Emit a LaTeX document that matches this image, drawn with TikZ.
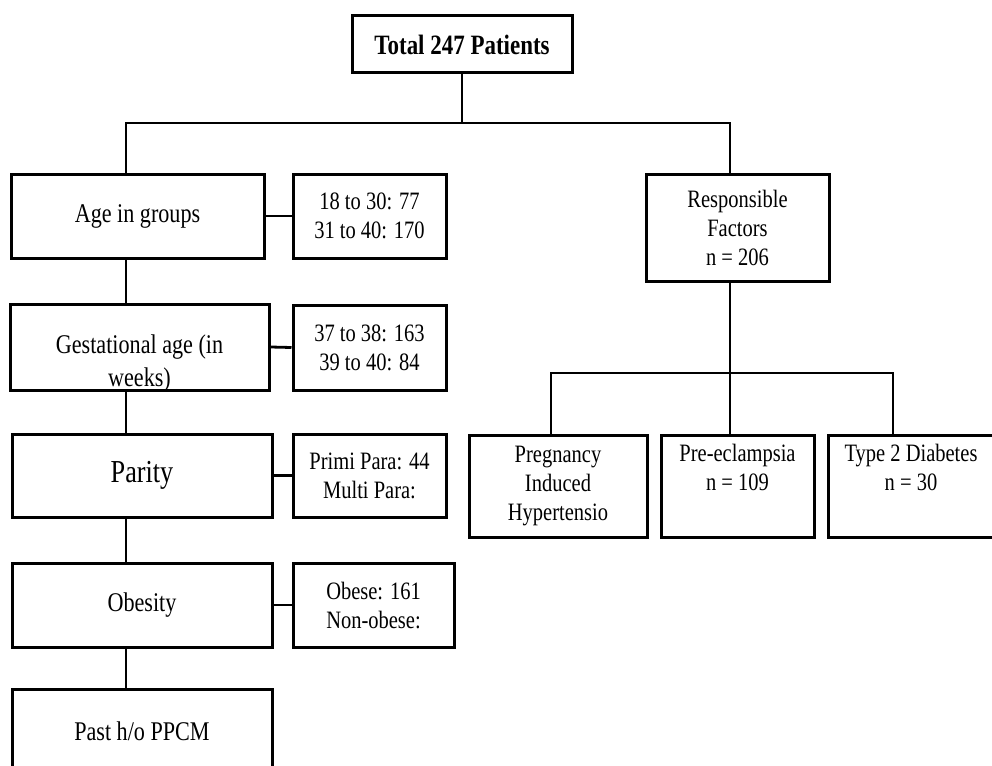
\documentclass[tikz,border=0pt]{standalone}
\usepackage{fontspec}
\setmainfont{Liberation Serif}[FakeStretch=0.82]
\usetikzlibrary{positioning}

\begin{document}
\begin{tikzpicture}[x=1pt, y=-1pt,
    box/.style={draw, line width=3pt, rectangle, inner sep=0pt, align=center},
    midtext/.style={font=\fontsize{25}{29}\selectfont},
    bigtext/.style={font=\fontsize{27}{33}\selectfont},
    link/.style={line width=2.8pt}]
    \useasboundingbox (0,0) rectangle (992,765);

    % Top
    \node[box, font=\bfseries\fontsize{28}{33}\selectfont, minimum width=220pt, minimum height=57pt] (total) at (462,44.5) {Total 247 Patients};

    % Left column
    \node[box, bigtext, minimum width=253pt, minimum height=84pt] (age) at (137.5,216) {Age in groups};
    \node[box, midtext, minimum width=153pt, minimum height=84pt] (age-val) at (369.5,216) {18 to 30: 77\\31 to 40: 170};
    \node[box, minimum width=259pt, minimum height=86pt] (gest) at (139.5,347) {};
    \node[bigtext, align=center] (gest-text) at (139.5,364) {Gestational age (in\\weeks)};
    \node[box, midtext, minimum width=153pt, minimum height=85pt] (gest-val) at (369.5,347.5) {37 to 38: 163\\39 to 40: 84};
    \node[box, font=\fontsize{32}{36}\selectfont, minimum width=260pt, minimum height=83pt] (parity) at (142,475.5) {Parity};
    \node[box, midtext, minimum width=153pt, minimum height=83pt] (parity-val) at (369.5,475.5) {Primi Para: 44\\Multi Para:};
    \node[box, bigtext, minimum width=260pt, minimum height=84pt] (obese) at (142,605) {Obesity};
    \node[box, midtext, minimum width=161pt, minimum height=84pt] (obese-val) at (373.5,605) {Obese: 161\\Non-obese:};
    \node[box, bigtext, minimum width=260pt, minimum height=84pt] (past) at (142,731) {Past h/o PPCM};

    % Right column
    \node[box, midtext, minimum width=183pt, minimum height=107pt] (resp) at (737.5,227.5) {Responsible\\Factors\\n = 206};
    \node[box, midtext, minimum width=178pt, minimum height=102pt] (pih) at (558,486) {Pregnancy\\Induced\\Hypertensio};
    \node[box, midtext, minimum width=153pt, minimum height=102pt] (pre) at (737.5,486) {Pre-eclampsia\\n = 109\\\strut};
    \node[box, midtext, minimum width=166pt, minimum height=102pt] (t2d) at (911,486) {Type 2 Diabetes\\n = 30\\\strut};

    % Connectors
    \coordinate (busL) at (126,123);
    \coordinate (busR) at (730,123);
    \coordinate (rbusL) at (551,373);
    \coordinate (rbusM) at (730,373);
    \coordinate (rbusR) at (893,373);

    \draw[link] (total.south) -- (total.south |- busL);
    \draw[link] (busL |- age.north) -- (busL) -- (busR) -- (busR |- resp.north);
    \foreach \a/\b in {age/gest, gest/parity, parity/obese, obese/past}
        \draw[link] (\a.south -| busL) -- (busL |- \b.north);
    \foreach \a in {age, gest, parity, obese}
        \draw[link] (\a.east) -- (\a-val.west);

    \draw[link] (resp.south -| rbusM) -- (rbusM);
    \draw[link] (rbusL |- pih.north) -- (rbusL) -- (rbusR) -- (rbusR |- t2d.north);
    \draw[link] (rbusM) -- (rbusM |- pre.north);
\end{tikzpicture}
\end{document}
